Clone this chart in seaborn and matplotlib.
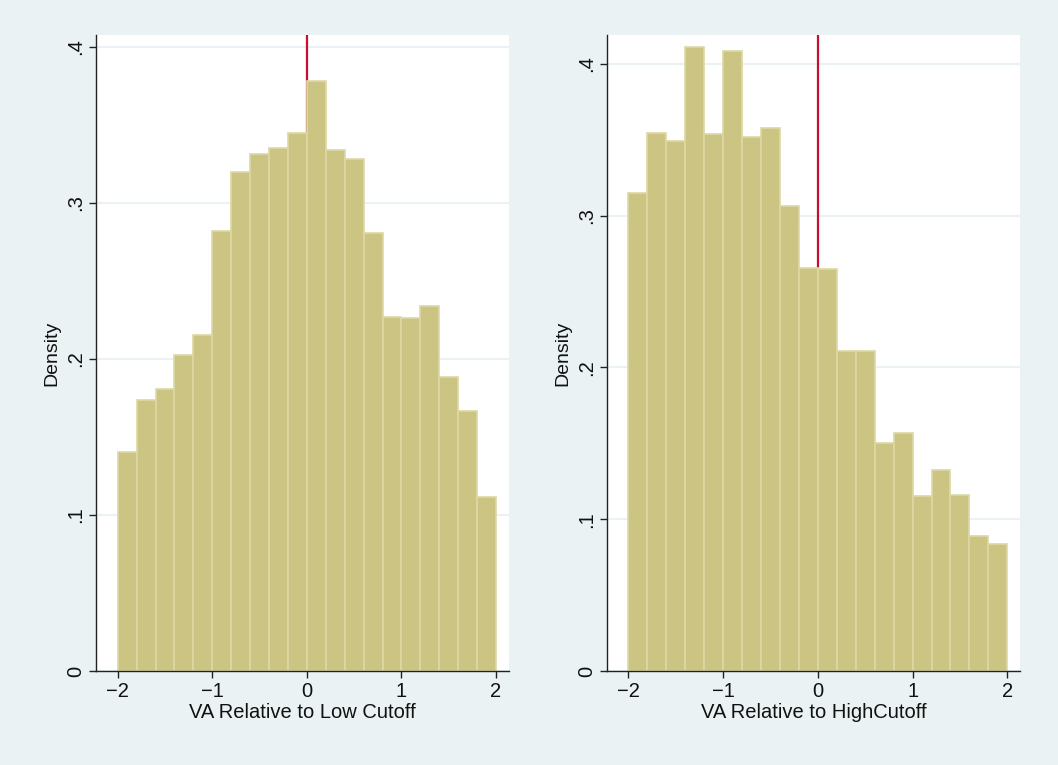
import numpy as np
import pandas as pd
import matplotlib
matplotlib.use("Agg")
import matplotlib.pyplot as plt
import seaborn as sns

# bins: 20 bins of width 0.2 from -2 to 2
bin_lo, bin_hi, n_bins = -2.0, 2.0, 20

low_density = [0.1404, 0.1737, 0.1806, 0.2026, 0.2154, 0.2821, 0.3201, 0.3312,
               0.3353, 0.3447, 0.3780, 0.3337, 0.3280, 0.2810, 0.2267, 0.2265,
               0.2342, 0.1885, 0.1669, 0.1113]
high_density = [0.3148, 0.3541, 0.3491, 0.4108, 0.3537, 0.4082, 0.3515, 0.3576,
                0.3062, 0.2656, 0.2645, 0.2107, 0.2107, 0.1505, 0.1569, 0.1153,
                0.1325, 0.1160, 0.0886, 0.0835]
panels = [
    ("VA Relative to Low Cutoff", low_density, 0.4077, (-2.23, 2.137)),
    ("VA Relative to HighCutoff", high_density, 0.4189, (-2.226, 2.134)),
]
y_ticks = [0, 0.1, 0.2, 0.3, 0.4]
y_tick_labels = ["0", ".1", ".2", ".3", ".4"]
x_ticks = [-2, -1, 0, 1, 2]
cutoff = 0.0

BG = "#EAF2F3"
BAR = "#CCC482"
EDGE = "#DDD8A4"
RED = "#C8102E"

sns.set_theme(style="white")
plt.rcParams["font.family"] = ["Liberation Sans", "DejaVu Sans"]

fig = plt.figure(figsize=(10.58, 7.65), dpi=100, facecolor=BG)
lefts = [96 / 1058, 607 / 1058]
binw = (bin_hi - bin_lo) / n_bins
for (xlabel, dens, ymax, xlim), left in zip(panels, lefts):
    ax = fig.add_axes([left, 94 / 765, 413 / 1058, 636 / 765])
    ax.set_facecolor("white")
    centers = bin_lo + binw * (np.arange(n_bins) + 0.5)
    df = pd.DataFrame({"x": centers, "w": dens})
    ax.axvline(cutoff, color=RED, lw=1.6, zorder=1)
    sns.histplot(data=df, x="x", weights="w", binwidth=binw,
                 binrange=(bin_lo, bin_hi), stat="count",
                 color=BAR, edgecolor=EDGE, linewidth=1.2, alpha=1.0,
                 ax=ax, zorder=2)
    ax.set_xlim(*xlim)
    ax.set_ylim(0, ymax)
    ax.set_yticks(y_ticks)
    ax.set_yticklabels(y_tick_labels, rotation=90, va="center")
    ax.set_xticks(x_ticks)
    ax.yaxis.grid(True, color=BG, lw=1.5, zorder=0)
    ax.set_axisbelow(True)
    for s in ["top", "right"]:
        ax.spines[s].set_visible(False)
    for s in ["left", "bottom"]:
        ax.spines[s].set_color("#222222")
        ax.spines[s].set_linewidth(1.0)
    ax.tick_params(axis="both", direction="out", length=5, width=1,
                   color="#222222", labelsize=14.5, labelcolor="#111111",
                   left=True, bottom=True, pad=3)
    ax.set_xlabel(xlabel, fontsize=14.5, color="#111111", labelpad=1)
    ax.set_ylabel("Density", fontsize=14, color="#111111", labelpad=4)

fig.savefig("out.png", dpi=100, facecolor=BG)
